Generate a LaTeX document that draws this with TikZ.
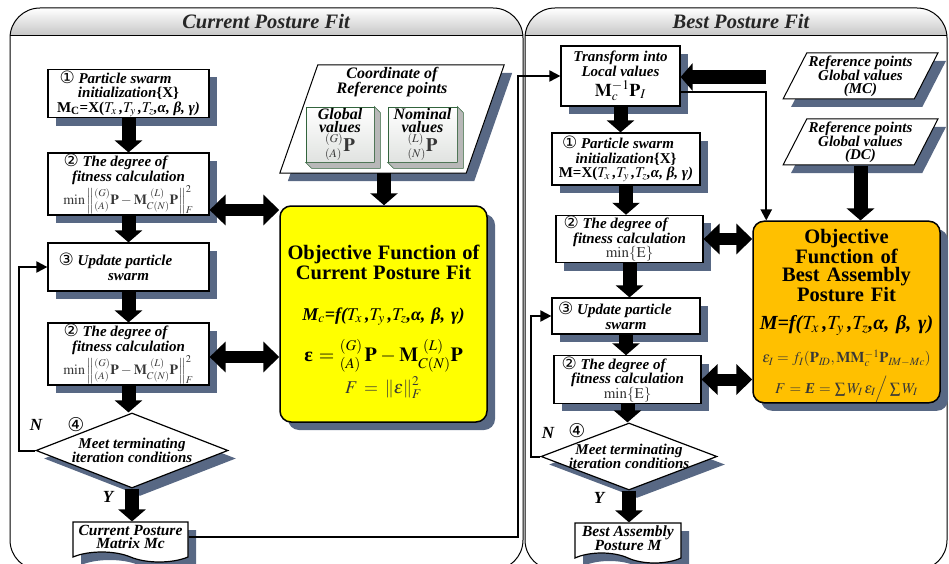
\documentclass[tikz,border=0pt]{standalone}
\usepackage{mathptmx}
\usepackage{fontspec}
\setmainfont{Liberation Serif}
\newfontfamily\circfont{DejaVu Sans}
\usetikzlibrary{arrows.meta, shapes.geometric, shapes.symbols, shadows}

\definecolor{shadowc}{RGB}{88,104,132}
\definecolor{objyellow}{RGB}{255,255,0}
\definecolor{objorange}{RGB}{255,192,0}
\definecolor{bevgreen}{RGB}{50,100,60}
\definecolor{mathgray}{RGB}{55,55,55}

\newcommand{\circnum}[1]{{\circfont\mdseries\upshape\fsz{17}{14}#1}}
\newcommand{\fsz}[2]{\fontsize{#1}{#2}\selectfont}
\newcommand{\poseargs}{$T_x$\,,$T_y$\,,$T_z$,α, β, γ)}
\newcommand{\fitmin}{{\upshape\mdseries\color{mathgray}\fsz{14}{14}%
  $\min\left\|{}^{(G)}_{(A)}\mathbf{P}-\mathbf{M}_{C(N)}^{\;\,(L)}\mathbf{P}\right\|_F^2$}}

\tikzset{
  shadowed/.style={drop shadow={shadow xshift=8pt, shadow yshift=-8pt, fill=shadowc, opacity=1}},
  stepbox/.style={draw, line width=1.2pt, fill=white, shadowed, align=center,
    font=\bfseries\itshape\fsz{15}{14.5}, inner sep=1pt},
  decision/.style={diamond, draw, line width=1.2pt, fill=white, shadowed, inner sep=0pt},
  databox/.style={trapezium, trapezium stretches=true, draw, line width=1pt, fill=white,
    shadowed, align=center, font=\bfseries\itshape\fsz{15}{12.5}, inner sep=1pt},
  docbox/.style={tape, tape bend top=none, tape bend bottom=out and in, tape bend height=10pt,
    draw, line width=1.2pt, fill=white, shadowed, align=center,
    font=\bfseries\itshape\fsz{15.5}{13.5}, inner sep=1pt},
  objbox/.style={draw, line width=1.5pt, rounded corners=11pt, shadowed, align=center, inner sep=0pt},
  valbox/.style={draw=bevgreen, line width=0.7pt, top color=white, bottom color=green!8!black!12,
    align=center, font=\bfseries\itshape\fsz{16}{13}, inner sep=0pt},
  bigarrow/.style={line width=14pt, -{Triangle[width=27pt,length=12pt]}},
  dblarrow/.style={line width=12pt, {Triangle[width=30pt,length=16pt]}-{Triangle[width=30pt,length=16pt]}},
  thinarrow/.style={line width=2pt, -{Triangle[width=11pt,length=11pt]}},
  sidelabel/.style={font=\bfseries\itshape\fsz{17}{17}, inner sep=0pt},
  numlabel/.style={font=\circfont\fsz{19}{19}, inner sep=0pt},
}

\begin{document}
\begin{tikzpicture}[x=1pt, y=-1pt]
\useasboundingbox (0,0) rectangle (949,564);

% PANELS
\foreach \xa/\xb/\ttl/\xt/\hn in {10/523/Current Posture Fit/266/H1, 525/947/Best Posture Fit/741/H2} {
  \begin{scope}
    \clip[rounded corners=30pt] (\xa,8) rectangle (\xb,570);
    \shade[top color=white, bottom color=black!22] (\xa,8) rectangle (\xb,35);
  \end{scope}
  \draw[line width=1pt, rounded corners=30pt] (\xa,8) rectangle (\xb,570);
  \draw[line width=0.6pt] (\xa,35) -- (\xb,35);
  \node[font=\bfseries\itshape\fsz{20.5}{20}, text=black!85] (\hn) at (\xt,22) {\ttl};
}

% CURRENT POSTURE FIT
\node[stepbox, minimum width=161pt, minimum height=47pt] (I1) at (128.5,93.5)
  {\circnum{①} Particle swarm\hspace*{26pt}\\ initialization{\upshape\{X\}}\\ {\upshape M\textsubscript{C}=X(}\poseargs};
\node[stepbox, minimum width=161pt, minimum height=56pt] (F1) at (128.5,184)
  {\circnum{②} The degree of\hspace*{26pt}\\ fitness calculation\\ \fitmin};
\node[stepbox, minimum width=161pt, minimum height=48pt] (U1) at (128.5,267)
  {\circnum{③} Update particle\hspace*{26pt}\\ swarm};
\node[stepbox, minimum width=161pt, minimum height=58pt] (F2) at (128.5,354)
  {\circnum{②} The degree of\hspace*{26pt}\\ fitness calculation\\ \fitmin};
\node[decision, minimum width=192pt, minimum height=75pt,
  label={[font=\bfseries\itshape\fsz{15}{14.5}, align=center]center:{Meet terminating\\ iteration conditions}}]
  (C1) at (132,450.5) {};
\node[docbox, minimum width=115pt, minimum height=40pt] (D1) at (130.5,537)
  {Current Posture\\ Matrix Mc};
\node[sidelabel] (NL1) at (36,425) {N};
\node[numlabel] (Q1) at (76,425) {④};
\node[sidelabel] (YL1) at (108,497) {Y};

% reference points: parallelogram drawn from the node corners
\node[minimum width=224pt, minimum height=108pt, inner sep=0pt] (RP) at (392,119) {};
\fill[shadowc] ([shift={(8,8)}]RP.south west) -- ([shift={(46,8)}]RP.north west)
  -- ([shift={(8,8)}]RP.north east) -- ([shift={(-30,8)}]RP.south east) -- cycle;
\filldraw[fill=white, line width=1pt] (RP.south west) -- ([xshift=38pt]RP.north west)
  -- (RP.north east) -- ([xshift=-38pt]RP.south east) -- cycle;
\node[font=\bfseries\itshape\fsz{16}{14}, align=center] (RPt) at (392,82) {Coordinate of\\ Reference points};
\node[valbox, minimum width=68pt, minimum height=55pt] (GV) at (340,134.5)
  {Global\\ values\\ {\upshape\mdseries\color{mathgray}$^{(G)}_{(A)}$\fsz{19}{18}$\mathbf{P}$}};
\node[valbox, minimum width=69pt, minimum height=55pt] (NV) at (422.5,134.5)
  {Nominal\\ values\\ {\upshape\mdseries\color{mathgray}$^{(L)}_{(N)}$\fsz{19}{18}$\mathbf{P}$}};
\foreach \b in {GV, NV} {
  \filldraw[draw=bevgreen, fill=black!28, line width=0.6pt] (\b.north east)
    -- ([shift={(6,6)}]\b.north east) -- ([shift={(6,6)}]\b.south east)
    -- ([shift={(6,6)}]\b.south west) -- (\b.south west) -- (\b.south east) -- cycle;
}

\node[objbox, fill=objyellow, minimum width=207pt, minimum height=216pt,
  text width=203pt, font=\fsz{18}{20}] (OF1) at (383.5,314)
  {\mbox{}\\[10pt]{\bfseries\fsz{20.5}{20}Objective Function of\\ Current Posture Fit}\\[21pt]
   {\bfseries\itshape\fsz{18}{17}M$_c$=f(\poseargs}\\[13pt]
   {\fsz{20}{20}\textbf{ε} $={}^{(G)}_{(A)}\,\mathbf{P}-\mathbf{M}_{C(N)}^{\;\,(L)}\mathbf{P}$}\\[3pt]
   {\fsz{18}{18}\color{mathgray}$F=\left\|\varepsilon\right\|_F^2$}};

% BEST POSTURE FIT
\node[stepbox, minimum width=119pt, minimum height=60pt, font=\bfseries\itshape\fsz{15}{13.5}] (TR) at (620.5,76)
  {Transform into\\ Local values\\[3pt] {\upshape\fsz{18}{18}$\mathbf{M}_c^{-1}\mathbf{P}_I$}};
\node[stepbox, minimum width=148pt, minimum height=52pt] (I2) at (626,159)
  {\circnum{①} Particle swarm\hspace*{16pt}\\ initialization{\upshape\{X\}}\\ {\upshape M=X(}\poseargs};
\node[stepbox, minimum width=147pt, minimum height=44pt] (F3) at (629.5,239)
  {\circnum{②} The degree of\hspace*{28pt}\\ fitness calculation\\ {\upshape\mdseries\color{mathgray}$\min\{\mathrm{E}\}$}};
\node[stepbox, minimum width=148pt, minimum height=36pt] (U2) at (626,316)
  {\circnum{③} Update particle\hspace*{22pt}\\ swarm};
\node[stepbox, minimum width=147pt, minimum height=43pt] (F4) at (627.5,379.5)
  {\circnum{②} The degree of\hspace*{28pt}\\ fitness calculation\\ {\upshape\mdseries\color{mathgray}$\min\{\mathrm{E}\}$}};
\node[decision, minimum width=176pt, minimum height=67pt,
  label={[font=\bfseries\itshape\fsz{15}{13.5}, align=center]center:{Meet terminating\\ iteration conditions}}]
  (C2) at (629,456.5) {};
\node[docbox, minimum width=106pt, minimum height=40pt] (D2) at (628,538)
  {Best Assembly\\ Posture M};
\node[sidelabel] (NL2) at (548,433) {N};
\node[numlabel] (Q2) at (577,431) {④};
\node[sidelabel] (YL2) at (599,498) {Y};

\node[databox, trapezium left angle=61.5, trapezium right angle=118.5,
  minimum width=155pt, minimum height=46pt] (MC) at (860.5,76)
  {Reference points\\ Global values\\ (MC)};
\node[databox, trapezium left angle=61.5, trapezium right angle=118.5,
  minimum width=155pt, minimum height=46pt] (DC) at (860.5,142)
  {Reference points\\ Global values\\ (DC)};

\node[objbox, fill=objorange, minimum width=187pt, minimum height=180pt,
  text width=185pt, font=\fsz{20.5}{18.5}] (OF2) at (846.5,312)
  {\mbox{}\\[3.5pt]{\bfseries Objective\\ Function of\\ Best Assembly\\ Posture Fit}\\[10pt]
   {\bfseries\itshape\fsz{20}{16}M=f(\poseargs}\\[13pt]
   {\fsz{15}{15}\color{mathgray}$\varepsilon_I=f_I(\mathbf{P}_{I\!D},\mathbf{MM}_c^{-1}\mathbf{P}_{I\!M-Mc})$}\\[8pt]
   {\fsz{15}{15}\color{mathgray}$F=\mbox{\bfseries\itshape E}=\sum W_I\,\varepsilon_I\Big/\sum W_I$}};

% EDGES
\foreach \a/\b in {I1/F1, F1/U1, U1/F2, F2/C1, C1/D1, TR/I2, I2/F3, F3/U2, U2/F4, F4/C2, C2/D2} {
  \draw[bigarrow] (\a.south) -- (\a.south |- \b.north);
}
\draw[bigarrow] ([xshift=-8pt]RP.south) -- ([xshift=-8pt]RP.south |- OF1.north);
\draw[bigarrow] (DC.south) -- (DC.south |- OF2.north);
\coordinate (MCin) at (766,77);
\draw[bigarrow] (MCin) -- (MCin -| TR.east);

\draw[dblarrow] ([yshift=-26pt]F1.east) -- ([yshift=-26pt]F1.east -| OF1.west);
\draw[dblarrow] ([yshift=-3pt]F2.east) -- ([yshift=-3pt]F2.east -| OF1.west);
\draw[dblarrow] (F3.east) -- (F3.east -| OF2.west);
\draw[dblarrow] (F4.east) -- (F4.east -| OF2.west);

\draw[thinarrow] (C1.west) -- ++(-16pt,0pt) |- (U1.west);
\draw[thinarrow] (C2.west) -- ++(-9pt,0pt) |- (U2.west);
\coordinate (J1) at (518,76);
\draw[thinarrow] (D1.east) -| (J1) -- (TR.west);
\draw[thinarrow] ([yshift=-16pt]TR.east) -| ([xshift=14pt]OF2.north west);

\end{tikzpicture}
\end{document}
